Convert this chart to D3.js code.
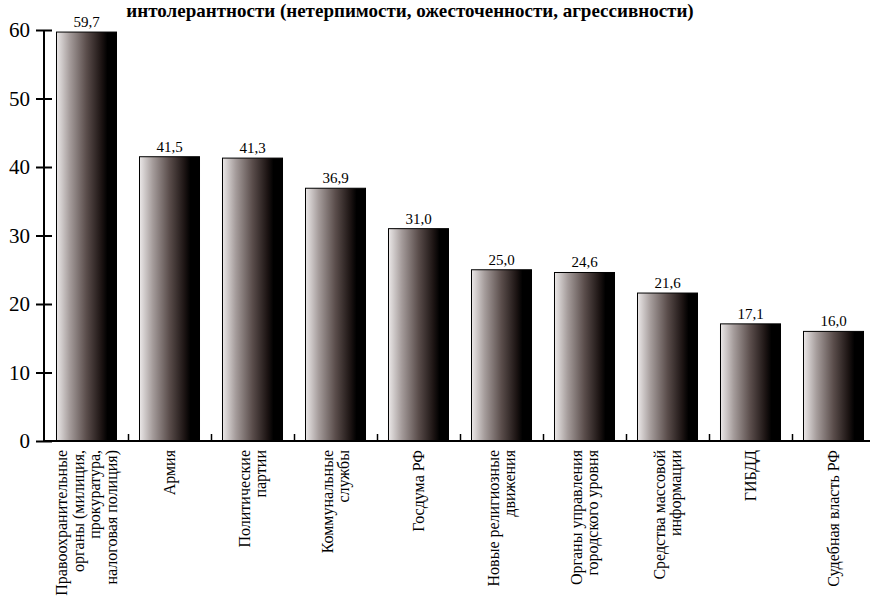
<!DOCTYPE html>
<html>
<head>
<meta charset="utf-8">
<script src="https://cdn.jsdelivr.net/npm/d3@7"></script>
<style>
  body { margin: 0; background: #fff; }
  svg { display: block; }
</style>
</head>
<body>
<div id="container"></div>
<script>
// data
var categories = [
  ["Правоохранительные", "органы (милиция,", "прокуратура,", "налоговая полиция)"],
  ["Армия"],
  ["Политические", "партии"],
  ["Коммунальные", "службы"],
  ["Госдума РФ"],
  ["Новые религиозные", "движения"],
  ["Органы управления", "городского уровня"],
  ["Средства массовой", "информации"],
  ["ГИБДД"],
  ["Судебная власть РФ"]
];
var values = [59.7, 41.5, 41.3, 36.9, 31.0, 25.0, 24.6, 21.6, 17.1, 16.0];
var yTicks = [0, 10, 20, 30, 40, 50, 60];
var title = "интолерантности (нетерпимости, ожесточенности, агрессивности)";

var W = 870, H = 598;
var x0 = 45, y0 = 441;
var SERIF = "'Liberation Serif', serif";

var svg = d3.select("#container").append("svg")
  .attr("width", W).attr("height", H);

var grad = svg.append("defs").append("linearGradient")
  .attr("id", "barfill").attr("x1", "0%").attr("x2", "100%").attr("y1", "0%").attr("y2", "0%");
grad.append("stop").attr("offset", "0%").attr("stop-color", "#ebe8e8");
grad.append("stop").attr("offset", "22%").attr("stop-color", "#a59c9b");
grad.append("stop").attr("offset", "50%").attr("stop-color", "#5a4d4b");
grad.append("stop").attr("offset", "75%").attr("stop-color", "#1c1413");
grad.append("stop").attr("offset", "85%").attr("stop-color", "#000");
grad.append("stop").attr("offset", "100%").attr("stop-color", "#000");

var x = d3.scaleBand()
  .domain(d3.range(values.length))
  .range([x0, x0 + 83 * values.length])
  .paddingInner(0.277).paddingOuter(0.1385);

var y = d3.scaleLinear().domain([0, 60]).range([y0, 30]);

// title, sitting at the very top like the source
svg.append("text")
  .attr("x", 410).attr("y", 17)
  .attr("text-anchor", "middle")
  .attr("font-family", SERIF)
  .attr("font-size", 19).attr("font-weight", "bold")
  .text(title);

// bars
svg.selectAll("rect.bar").data(values).enter().append("rect")
  .attr("class", "bar")
  .attr("x", function(d, i) { return x(i); })
  .attr("y", function(d) { return y(d); })
  .attr("width", x.bandwidth())
  .attr("height", function(d) { return y0 - y(d); })
  .attr("fill", "url(#barfill)")
  .attr("stroke", "#000").attr("stroke-width", 1);

// value labels
svg.selectAll("text.val").data(values).enter().append("text")
  .attr("class", "val")
  .attr("x", function(d, i) { return x(i) + x.bandwidth() / 2; })
  .attr("y", function(d) { return y(d) - 5; })
  .attr("text-anchor", "middle")
  .attr("font-family", SERIF)
  .attr("font-size", 15)
  .text(function(d) { return d.toFixed(1).replace(".", ","); });

// y axis
var yAxis = svg.append("g").attr("transform", "translate(" + (x0 - 1) + ",0)")
  .call(d3.axisLeft(y).tickValues(yTicks).tickSize(8).tickPadding(6));
yAxis.attr("font-family", SERIF).attr("font-size", 21);
yAxis.select(".domain").attr("stroke", "#000").attr("stroke-width", 2).attr("d", "M0," + y(60) + "V" + y0);
yAxis.selectAll(".tick line").attr("x2", 8).attr("x1", -8).attr("stroke", "#000").attr("stroke-width", 2);
yAxis.selectAll(".tick text").attr("x", -14).attr("fill", "#000");

// x axis with boundary ticks
svg.append("line")
  .attr("x1", x0 - 1).attr("x2", W).attr("y1", y0).attr("y2", y0)
  .attr("stroke", "#000").attr("stroke-width", 2);
svg.selectAll("line.bt").data(d3.range(values.length)).enter().append("line")
  .attr("class", "bt")
  .attr("x1", function(i) { return x(i) + x.step() * (1 - 0.1385) + 0.5; })
  .attr("x2", function(i) { return x(i) + x.step() * (1 - 0.1385) + 0.5; })
  .attr("y1", y0).attr("y2", y0 - 7)
  .attr("stroke", "#000").attr("stroke-width", 1.5);

// category labels, rotated
var fs = 16, lh = 16.5;
categories.forEach(function(lines, i) {
  var cx = x(i) + x.bandwidth() / 2;
  var n = lines.length;
  lines.forEach(function(s, j) {
    var bx = cx + (j - (n - 1) / 2) * lh + fs * 0.35;
    svg.append("text")
      .attr("transform", "translate(" + bx + "," + (y0 + 9) + ") rotate(-90)")
      .attr("text-anchor", "end")
      .attr("font-family", SERIF)
      .attr("font-size", fs)
      .text(s);
  });
});
</script>
</body>
</html>
